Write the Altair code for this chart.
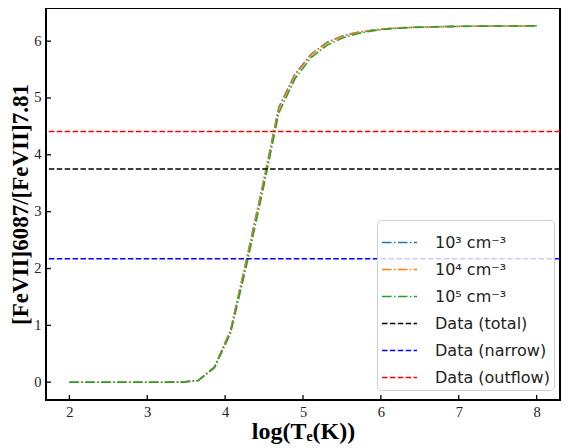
import altair as alt
import pandas as pd

# ---- data ----
log_t = [2.000, 2.207, 2.414, 2.621, 2.828, 3.034, 3.241, 3.448, 3.655, 3.862,
         4.069, 4.276, 4.483, 4.690, 4.897, 5.103, 5.310, 5.517, 5.724, 5.931,
         6.138, 6.345, 6.552, 6.759, 6.966, 7.172, 7.379, 7.586, 7.793, 8.000]
ratio_1e3 = [0, 0, 0, 0, 0, 0, 0, 0.002, 0.03, 0.27, 0.91, 2.17, 3.47, 4.84, 5.42,
             5.77, 5.98, 6.10, 6.16, 6.20, 6.225, 6.24, 6.25, 6.255, 6.26, 6.263,
             6.265, 6.267, 6.268, 6.27]
ratio_1e4 = [0, 0, 0, 0, 0, 0, 0, 0.002, 0.03, 0.26, 0.90, 2.15, 3.45, 4.82, 5.40,
             5.76, 5.97, 6.09, 6.16, 6.20, 6.225, 6.24, 6.25, 6.255, 6.26, 6.263,
             6.265, 6.267, 6.268, 6.27]
ratio_1e5 = [0, 0, 0, 0, 0, 0, 0, 0.002, 0.03, 0.25, 0.86, 2.06, 3.36, 4.74, 5.34,
             5.71, 5.93, 6.06, 6.14, 6.19, 6.22, 6.235, 6.245, 6.252, 6.257, 6.261,
             6.264, 6.266, 6.267, 6.268]
curve_labels = ["10³ cm⁻³", "10⁴ cm⁻³", "10⁵ cm⁻³"]
data_labels = ["Data (total)", "Data (narrow)", "Data (outflow)"]
data_values = [3.75, 2.17, 4.41]
x_ticks = [2, 3, 4, 5, 6, 7, 8]
y_ticks = [0, 1, 2, 3, 4, 5, 6]

all_labels = curve_labels + data_labels
colors = ["#1f77b4", "#ff7f0e", "#2ca02c", "#000000", "#0000ff", "#ff0000"]
dashes = [[9.6, 2.4, 1.5, 2.4]] * 3 + [[5.5, 2.4]] * 3

rows = []
for lab, ys in zip(curve_labels, [ratio_1e3, ratio_1e4, ratio_1e5]):
    for xv, yv in zip(log_t, ys):
        rows.append({"x": xv, "y": yv, "series": lab})
curves = pd.DataFrame(rows)
hlines = pd.DataFrame({"y": data_values, "series": data_labels})
xt = pd.DataFrame({"t": x_ticks})
yt = pd.DataFrame({"t": y_ticks})

W, H = 514, 392
xscale = alt.Scale(domain=[1.7, 8.3], nice=False, zero=False)
yscale = alt.Scale(domain=[-0.313, 6.583], nice=False, zero=False)

color = alt.Color("series:N", scale=alt.Scale(domain=all_labels, range=colors),
                  legend=alt.Legend(title=None))
dash = alt.StrokeDash("series:N", scale=alt.Scale(domain=all_labels, range=dashes),
                      legend=alt.Legend(title=None))

lines = alt.Chart(curves).mark_line(strokeWidth=1.6, clip=True).encode(
    x=alt.X("x:Q", scale=xscale,
            axis=alt.Axis(title="log(Tₑ(K))", values=x_ticks, ticks=False, grid=False,
                          domain=False, labelPadding=5, format="d", titleFontSize=24)),
    y=alt.Y("y:Q", scale=yscale,
            axis=alt.Axis(title="[FeVII]6087/[FeVII]7.81", values=y_ticks, ticks=False,
                          grid=False, domain=False, labelPadding=5, format="d",
                          titleFontSize=23)),
    color=color, strokeDash=dash, order=alt.Order("x:Q"),
)

rules = alt.Chart(hlines).mark_rule(strokeWidth=1.5).encode(
    y=alt.Y("y:Q", scale=yscale), color=color, strokeDash=dash,
)

xtick_marks = alt.Chart(xt).mark_rule(color="black", strokeWidth=1.3).encode(
    x=alt.X("t:Q", scale=xscale), y=alt.value(H - 5), y2=alt.value(H),
)
ytick_marks = alt.Chart(yt).mark_rule(color="black", strokeWidth=1.3).encode(
    y=alt.Y("t:Q", scale=yscale), x=alt.value(0), x2=alt.value(5),
)

chart = alt.layer(lines, rules, xtick_marks, ytick_marks).properties(
    width=W, height=H,
    autosize=alt.AutoSizeParams(type="none"),
    padding={"left": 38, "top": 0, "right": 1, "bottom": 48},
).configure_view(
    stroke="black", strokeWidth=2,
).configure_axis(
    labelFont="Liberation Serif", labelFontSize=14.5, labelColor="#222",
    titleFont="Liberation Serif", titleFontWeight="bold", titleColor="black",
).configure_axisY(titlePadding=1).configure_axisX(titlePadding=1).configure_legend(
    orient="none", legendX=331, legendY=212,
    labelFont="DejaVu Sans", labelFontSize=16, labelColor="#222",
    symbolType="stroke", symbolSize=1225, symbolStrokeWidth=1.6,
    rowPadding=-0.5, padding=4,
    fillColor="rgba(255,255,255,0.8)", strokeColor="#d0d0d0", cornerRadius=4,
    labelOffset=17,
)

chart.save("out.html", embed_options={"renderer": "svg", "actions": False})
